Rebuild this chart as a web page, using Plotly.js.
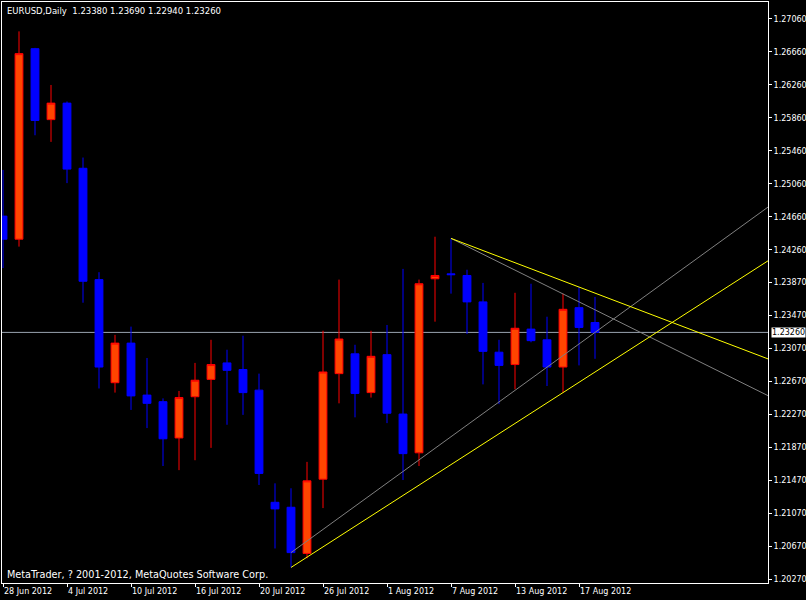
<!DOCTYPE html>
<html><head><meta charset="utf-8">
<script src="https://cdn.plot.ly/plotly-3.0.1.min.js"></script>
<style>html,body{margin:0;padding:0;background:#000;}</style>
</head><body><div id="chart" style="width:806px;height:600px;"></div>
<script>
const dates = ["28 Jun 2012","29 Jun 2012","2 Jul 2012","3 Jul 2012","4 Jul 2012","5 Jul 2012","6 Jul 2012","9 Jul 2012","10 Jul 2012","11 Jul 2012","12 Jul 2012","13 Jul 2012","16 Jul 2012","17 Jul 2012","18 Jul 2012","19 Jul 2012","20 Jul 2012","23 Jul 2012","24 Jul 2012","25 Jul 2012","26 Jul 2012","27 Jul 2012","30 Jul 2012","31 Jul 2012","1 Aug 2012","2 Aug 2012","3 Aug 2012","6 Aug 2012","7 Aug 2012","8 Aug 2012","9 Aug 2012","10 Aug 2012","13 Aug 2012","14 Aug 2012","15 Aug 2012","16 Aug 2012","17 Aug 2012","20 Aug 2012"];
const openP  = [1.2467,1.2439,1.2670,1.2584,1.2604,1.2525,1.2390,1.2265,1.2313,1.2250,1.2242,1.2198,1.2248,1.2269,1.2289,1.2281,1.2256,1.2120,1.2114,1.2058,1.2148,1.2276,1.2300,1.2253,1.2299,1.2227,1.2180,1.2391,1.2397,1.2395,1.2363,1.2302,1.2287,1.2330,1.2317,1.2284,1.2356,1.2338];
const highP  = [1.2523,1.2691,1.2671,1.2626,1.2606,1.2538,1.2399,1.2323,1.2333,1.2295,1.2246,1.2255,1.2289,1.2317,1.2305,1.2322,1.2276,1.2143,1.2137,1.2169,1.2328,1.2390,1.2311,1.2328,1.2335,1.2403,1.2390,1.2442,1.2440,1.2402,1.2386,1.2317,1.2374,1.2385,1.2345,1.2373,1.2381,1.2369];
const lowP   = [1.2404,1.2430,1.2565,1.2557,1.2507,1.2362,1.2258,1.2253,1.2232,1.2210,1.2164,1.2159,1.2171,1.2186,1.2214,1.2226,1.2141,1.2064,1.2041,1.2052,1.2113,1.2240,1.2223,1.2247,1.2216,1.2147,1.2164,1.2339,1.2373,1.2324,1.2263,1.2239,1.2257,1.2314,1.2261,1.2253,1.2286,1.2294];
const closeP = [1.2439,1.2664,1.2583,1.2604,1.2524,1.2388,1.2284,1.2313,1.2249,1.2240,1.2197,1.2247,1.2268,1.2287,1.2280,1.2253,1.2155,1.2112,1.2059,1.2146,1.2278,1.2318,1.2252,1.2297,1.2228,1.2179,1.2385,1.2395,1.2396,1.2363,1.2303,1.2286,1.2331,1.2316,1.2284,1.2354,1.2332,1.2326];

const xTickIdx = [0,4,8,12,16,20,24,28,32,36];
const yTickVals = [1.27060,1.26660,1.26260,1.25860,1.25460,1.25060,1.24660,1.24260,1.23870,1.23470,1.23070,1.22670,1.22270,1.21870,1.21470,1.21070,1.20670,1.20270];

// trendline anchor points (bar index, price)
const yellowUpX = [18, 35], yellowUpY = [1.2041, 1.2253];
const grayUpX   = [18, 37], grayUpY   = [1.2059, 1.2326];
const yellowDnX = [28, 36], yellowDnY = [1.2440, 1.2381];
const grayDnX   = [28, 36], grayDnY   = [1.2440, 1.2363];

const bidPrice = 1.23260;
const symbol = "EURUSD,Daily";

const idx = dates.map((d,i)=>i);

function ray(xs, ys, color){
  const slope = (ys[1]-ys[0])/(xs[1]-xs[0]);
  const xEnd = 60;
  return {type:'scatter', mode:'lines', x:[xs[0], xEnd], y:[ys[0], ys[0]+slope*(xEnd-xs[0])],
    line:{color:color, width:1}, hoverinfo:'skip', showlegend:false};
}

const traces = [
  ray(grayUpX, grayUpY, '#808080'),
  ray(grayDnX, grayDnY, '#808080'),
  ray(yellowUpX, yellowUpY, '#FFFF00'),
  ray(yellowDnX, yellowDnY, '#FFFF00'),
  {type:'candlestick', x:idx, open:openP, high:highP, low:lowP, close:closeP,
   increasing:{line:{color:'#FF0000', width:1}, fillcolor:'#FF4500'},
   decreasing:{line:{color:'#0000FF', width:1}, fillcolor:'#0000FF'},
   whiskerwidth:0, showlegend:false, hoverinfo:'skip'}
];

const last = dates.length-1;
const headerText = symbol + "\u00a0\u00a0" + [openP[last],highP[last],lowP[last],closeP[last]].map(v=>v.toFixed(5)).join(" ");

const fontFam = "'DejaVu Sans', Verdana, sans-serif";
const layout = {
  width:806, height:600,
  paper_bgcolor:'#000', plot_bgcolor:'#000',
  margin:{l:2, r:38, t:2, b:17},
  boxgap:0.3,
  showlegend:false,
  font:{family:fontFam, size:8, color:'#fff'},
  xaxis:{type:'linear', range:[-0.0625, 47.8125], showgrid:false, zeroline:false,
    showline:true, mirror:true, linecolor:'#fff', linewidth:1,
    tickvals:xTickIdx, ticktext:xTickIdx.map(i=>dates[i]),
    ticks:'outside', ticklen:3, tickcolor:'#fff', ticklabelposition:'outside right',
    tickfont:{family:fontFam, size:8, color:'#fff'},
    rangeslider:{visible:false}, fixedrange:true},
  yaxis:{range:[1.202215, 1.27266], side:'right', showgrid:false, zeroline:false,
    showline:true, mirror:true, linecolor:'#fff', linewidth:1,
    tickvals:yTickVals, ticktext:yTickVals.map(v=>v.toFixed(5)),
    ticks:'outside', ticklen:3, tickcolor:'#fff',
    tickfont:{family:fontFam, size:8, color:'#fff'}, fixedrange:true},
  shapes:[
    {type:'line', xref:'paper', x0:0, x1:1, yref:'y', y0:bidPrice, y1:bidPrice,
     line:{color:'#9aa4b0', width:1}, layer:'below'}
  ],
  annotations:[
    {xref:'paper', yref:'paper', x:0, y:1, xanchor:'left', yanchor:'top', xshift:3, yshift:-2,
     text:headerText, showarrow:false, font:{family:fontFam, size:8.5, color:'#fff'}},
    {xref:'paper', yref:'paper', x:0, y:0, xanchor:'left', yanchor:'bottom', xshift:3, yshift:1,
     text:"MetaTrader, ? 2001-2012, MetaQuotes Software Corp.", showarrow:false,
     font:{family:fontFam, size:9.7, color:'#fff'}},
    {xref:'paper', yref:'y', x:1, y:bidPrice, xanchor:'left', yanchor:'middle', xshift:3,
     text:bidPrice.toFixed(5), showarrow:false, bgcolor:'#fff', borderpad:0,
     font:{family:fontFam, size:8, color:'#000'}}
  ]
};

Plotly.newPlot('chart', traces, layout, {staticPlot:true, displayModeBar:false});
</script>
</body></html>
